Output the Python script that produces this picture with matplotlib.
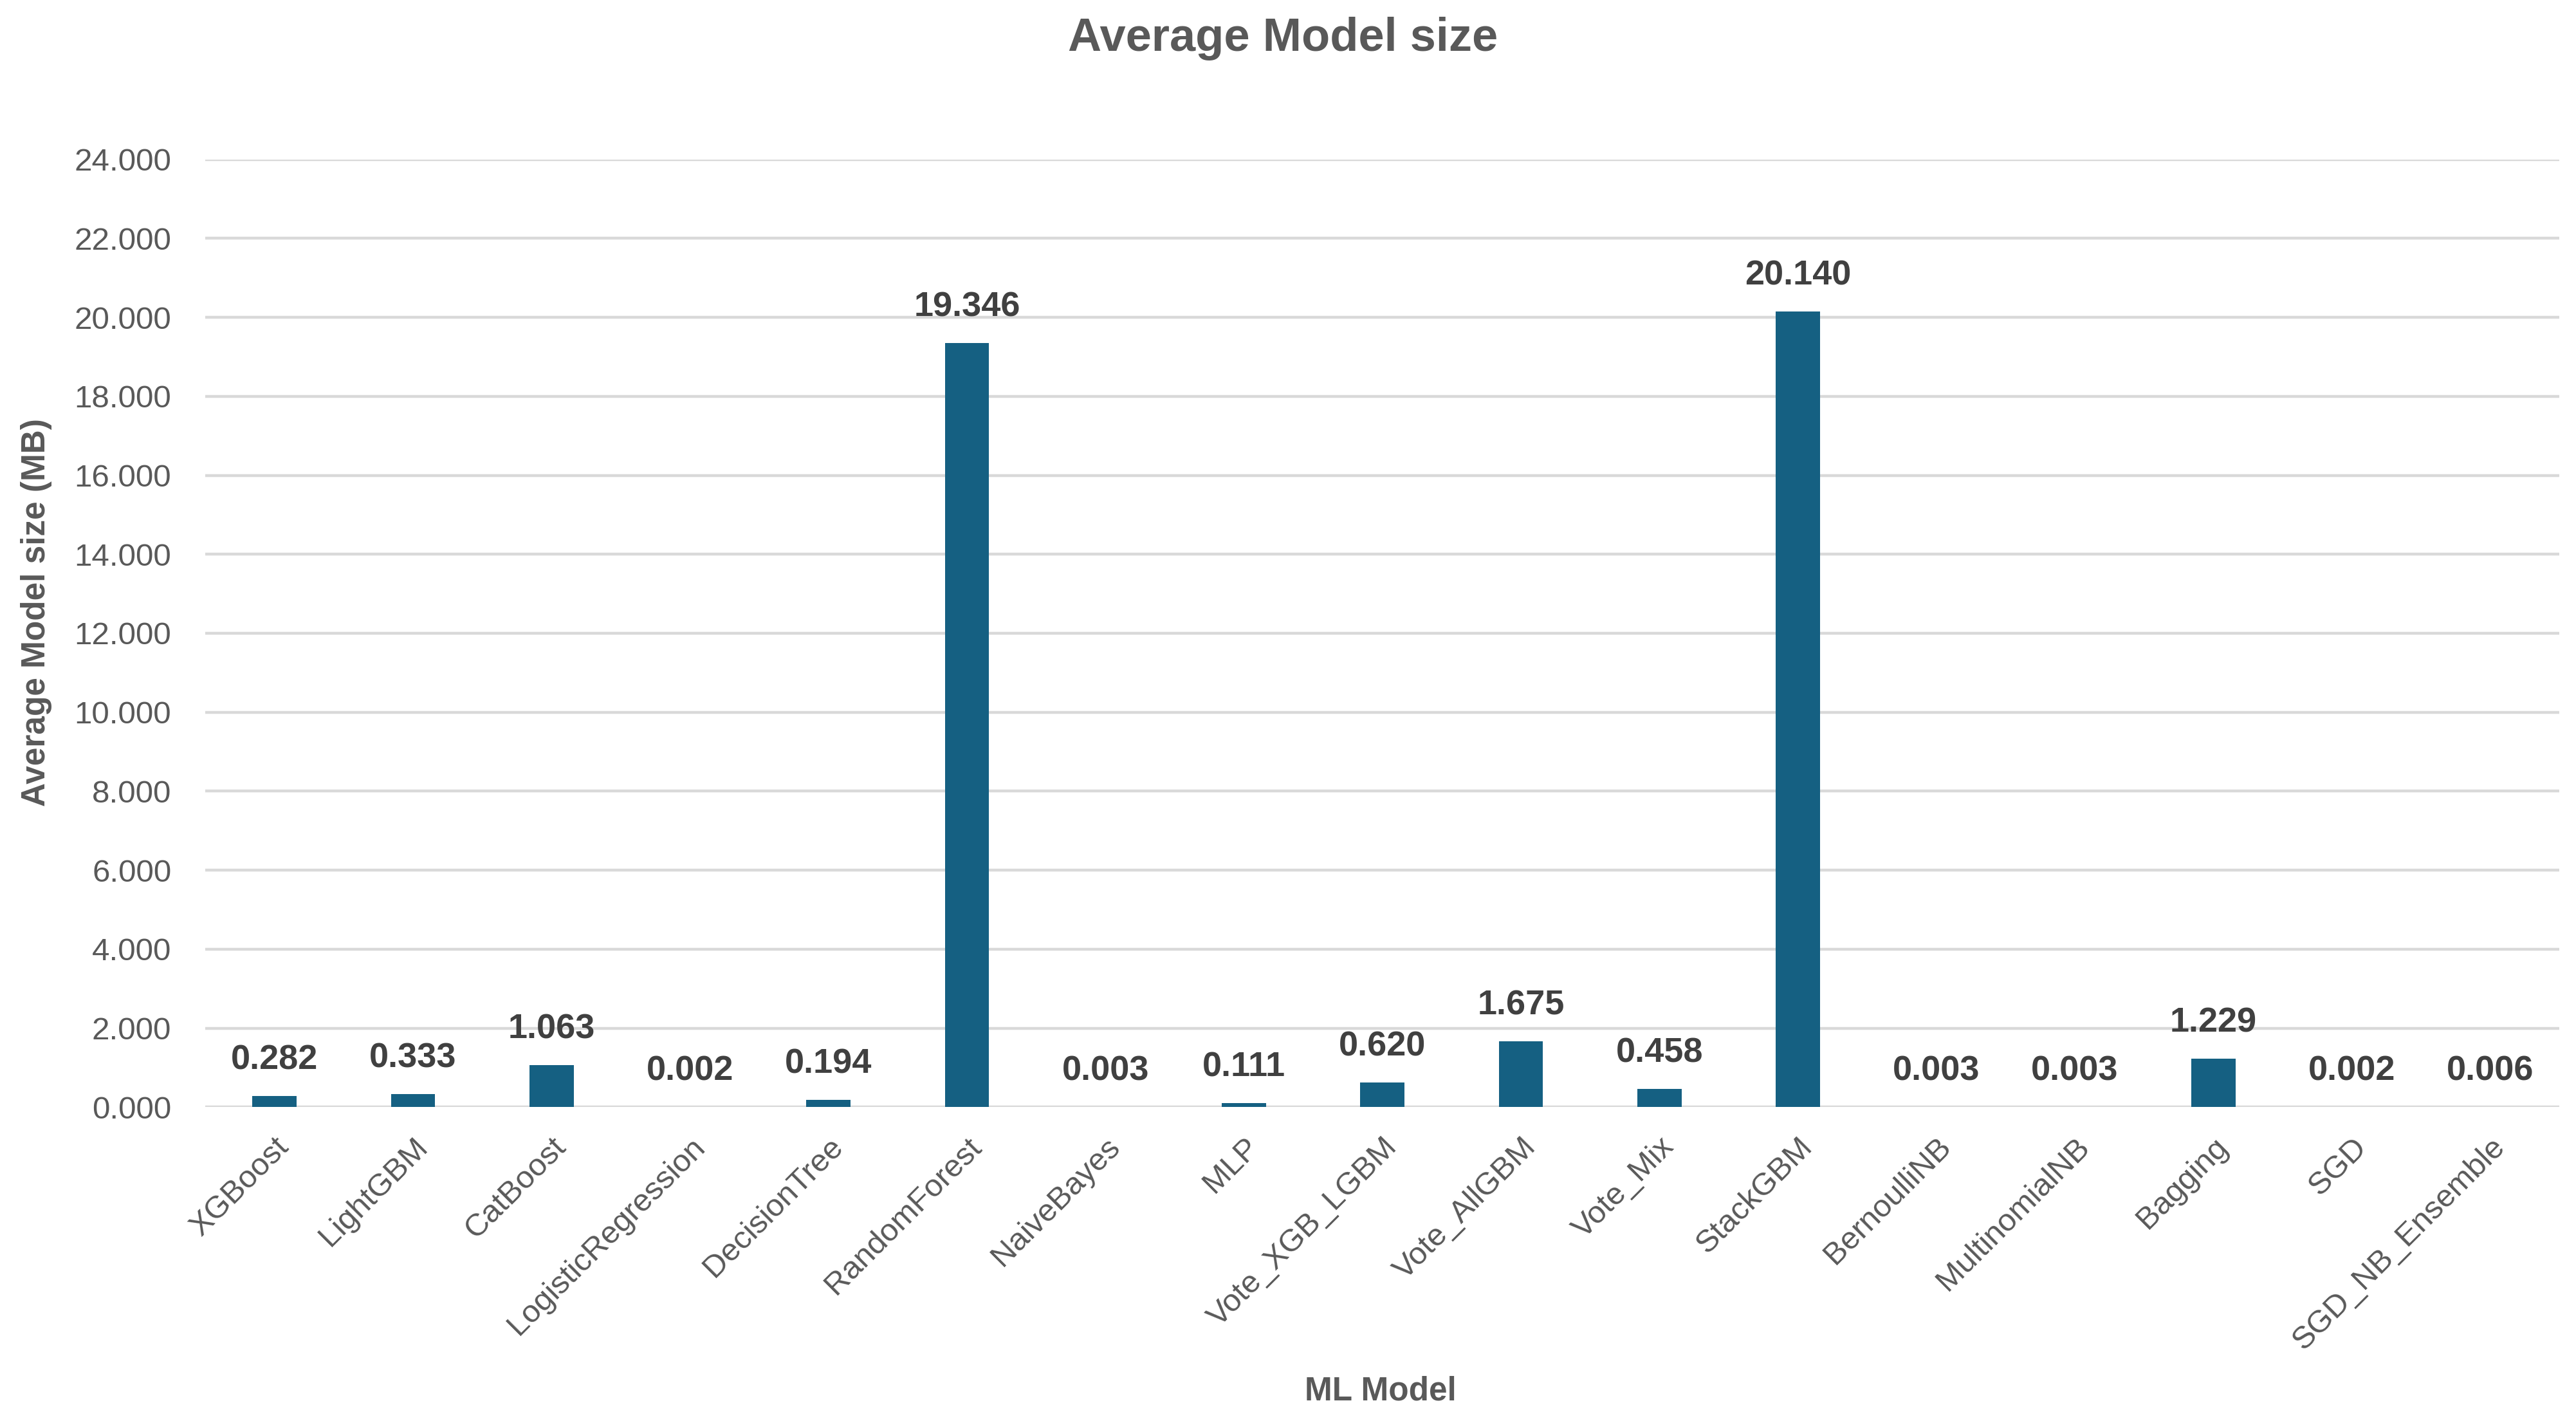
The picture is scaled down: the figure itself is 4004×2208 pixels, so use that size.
import matplotlib.pyplot as plt
import numpy as np

# === Data ===
models = ["XGBoost", "LightGBM", "CatBoost", "LogisticRegression", "DecisionTree",
          "RandomForest", "NaiveBayes", "MLP", "Vote_XGB_LGBM", "Vote_AllGBM",
          "Vote_Mix", "StackGBM", "BernoulliNB", "MultinomialNB", "Bagging",
          "SGD", "SGD_NB_Ensemble"]
sizes_mb = [0.282, 0.333, 1.063, 0.002, 0.194,
            19.346, 0.003, 0.111, 0.620, 1.675,
            0.458, 20.140, 0.003, 0.003, 1.229,
            0.002, 0.006]
y_ticks = np.arange(0, 26, 2)

# === Style ===
plt.rcParams['font.family'] = ['Liberation Sans', 'DejaVu Sans']
BAR_COLOR = "#156082"
TEXT_GRAY = "#595959"
LABEL_DARK = "#404040"
GRID_GRAY = "#D9D9D9"

fig = plt.figure(figsize=(20.02, 11.04), dpi=200)
ax = fig.add_axes([0.0797, 0.2208, 0.9139, 0.6671])

x = np.arange(len(models))
bars = ax.bar(x, sizes_mb, width=0.32, color=BAR_COLOR, zorder=3)

for bar, val in zip(bars, sizes_mb):
    ax.annotate(f"{val:.3f}", (bar.get_x() + bar.get_width() / 2, bar.get_height()),
                xytext=(0, 11), textcoords="offset points", ha="center", va="bottom",
                fontsize=19.5, fontweight="bold", color=LABEL_DARK)

ax.set_xlim(-0.5, len(models) - 0.5)
ax.set_ylim(0, 24)
ax.set_yticks(y_ticks)
ax.set_yticklabels([f"{v:.3f}" for v in y_ticks], fontsize=17.8, color=TEXT_GRAY)
ax.set_xticks(x)
ax.set_xticklabels(models, rotation=45, ha="right", rotation_mode="anchor",
                   fontsize=17.6, color=TEXT_GRAY)
ax.tick_params(axis="both", length=0)
ax.tick_params(axis="y", pad=19)
ax.tick_params(axis="x", pad=14)

ax.yaxis.grid(True, color=GRID_GRAY, linewidth=1.6, zorder=0)
for s in ax.spines.values():
    s.set_visible(False)

fig.suptitle("Average Model size", x=0.498, y=0.988, fontsize=26,
             fontweight="bold", color=TEXT_GRAY)
fig.text(0.014, 0.569, "Average Model size (MB)", rotation=90, ha="center",
         va="center", fontsize=18.5, fontweight="bold", color=TEXT_GRAY)
fig.text(0.536, 0.021, "ML Model", ha="center", va="center",
         fontsize=18.5, fontweight="bold", color=TEXT_GRAY)

fig.savefig("out.png", dpi=200, facecolor="white")
plt.close(fig)
